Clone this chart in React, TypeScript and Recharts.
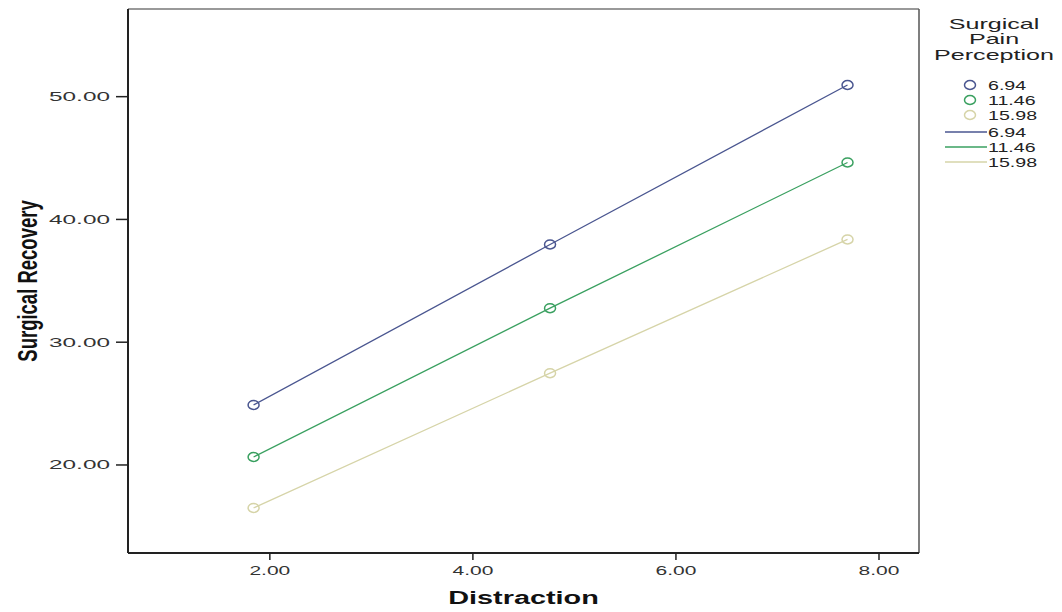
import React from 'react';
import { LineChart, Line, XAxis, YAxis, ReferenceLine, Label } from 'recharts';

// ---- data ----
const distraction = [1.84, 4.76, 7.69];
const painLabels = ['6.94', '11.46', '15.98'];
const recoveryAt694 = [24.89, 37.96, 50.95];
const recoveryAt1146 = [20.65, 32.77, 44.64];
const recoveryAt1598 = [16.5, 27.48, 38.37];
const xTicks = [2, 4, 6, 8];
const yTicks = [20, 30, 40, 50];
const xDomain: [number, number] = [0.603, 8.394];
const yDomain: [number, number] = [12.83, 57.14];
const legendTitle = ['Surgical', 'Pain', 'Perception'];
const xTitle = 'Distraction';
const yTitle = 'Surgical Recovery';

const seriesColors = ['#4a5690', '#3aa060', '#d6d4a8'];
const seriesKeys = ['s0', 's1', 's2'];
const seriesValues = [recoveryAt694, recoveryAt1146, recoveryAt1598];

const rows = distraction.map((x, i) => ({
  x,
  s0: recoveryAt694[i],
  s1: recoveryAt1146[i],
  s2: recoveryAt1598[i],
}));

const FONT = 'Liberation Sans, Arial, sans-serif';
const W = 1054;
const H = 604;

const YTick = (props: any) => {
  const { x, y, payload } = props;
  return (
    <text
      transform={`translate(${x},${y}) scale(1.95,1)`}
      textAnchor="end"
      dominantBaseline="central"
      fontSize={12.5}
      fontFamily={FONT}
      fill="#333"
    >
      {Number(payload.value).toFixed(2)}
    </text>
  );
};

const XTick = (props: any) => {
  const { x, y, payload } = props;
  return (
    <text
      transform={`translate(${x},${y}) scale(1.68,1)`}
      textAnchor="middle"
      dominantBaseline="central"
      fontSize={12.5}
      fontFamily={FONT}
      fill="#333"
    >
      {Number(payload.value).toFixed(2)}
    </text>
  );
};

const XTitle = (props: any) => {
  const vb = props.viewBox || {};
  const cx = vb.x + vb.width / 2;
  const cy = vb.y + 45;
  return (
    <text
      transform={`translate(${cx},${cy}) scale(1.65,1)`}
      textAnchor="middle"
      dominantBaseline="central"
      fontSize={17.5}
      fontWeight="bold"
      fontFamily={FONT}
      fill="#111"
    >
      {xTitle}
    </text>
  );
};

const YTitle = (props: any) => {
  const vb = props.viewBox || {};
  const cx = 20;
  const cy = vb.y + vb.height / 2;
  return (
    <text
      transform={`translate(${cx},${cy}) scale(1.45,1) rotate(-90)`}
      textAnchor="middle"
      dominantBaseline="central"
      fontSize={18.5}
      fontWeight="bold"
      fontFamily={FONT}
      fill="#111"
    >
      {yTitle}
    </text>
  );
};

const makeDot = (color: string) => (p: any) => (
  <ellipse
    key={`d-${color}-${p.index}`}
    cx={p.cx}
    cy={p.cy}
    rx={5.5}
    ry={4.5}
    fill="none"
    stroke={color}
    strokeWidth={1.5}
  />
);

const LegendOverlay = () => {
  const titleX = 986;
  const titleY = [16, 31, 47];
  const rowY = [77, 92, 107, 124, 139, 154];
  return (
    <svg
      width={W}
      height={H}
      style={{ position: 'absolute', left: 0, top: 0, pointerEvents: 'none' }}
    >
      {legendTitle.map((t, i) => (
        <text
          key={t}
          transform={`translate(${titleX},${titleY[i]}) scale(1.73,1)`}
          textAnchor="middle"
          dominantBaseline="central"
          fontSize={14.5}
          fontFamily={FONT}
          fill="#222"
        >
          {t}
        </text>
      ))}
      {painLabels.map((lab, i) => (
        <g key={`c-${lab}`}>
          <ellipse
            cx={962}
            cy={rowY[i]}
            rx={5.5}
            ry={4.5}
            fill="none"
            stroke={seriesColors[i]}
            strokeWidth={1.5}
          />
          <text
            transform={`translate(980,${rowY[i]}) scale(1.57,1)`}
            dominantBaseline="central"
            fontSize={12.5}
            fontFamily={FONT}
            fill="#222"
          >
            {lab}
          </text>
        </g>
      ))}
      {painLabels.map((lab, i) => (
        <g key={`l-${lab}`}>
          <line
            x1={937}
            x2={979}
            y1={rowY[i + 3]}
            y2={rowY[i + 3]}
            stroke={seriesColors[i]}
            strokeWidth={1.5}
          />
          <text
            transform={`translate(980,${rowY[i + 3]}) scale(1.57,1)`}
            dominantBaseline="central"
            fontSize={12.5}
            fontFamily={FONT}
            fill="#222"
          >
            {lab}
          </text>
        </g>
      ))}
    </svg>
  );
};

export default function App() {
  return (
    <div style={{ position: 'relative', width: W, height: H, background: '#fff' }}>
      <LineChart
        width={W}
        height={H}
        data={rows}
        margin={{ top: 1, right: 143, bottom: 0, left: 0 }}
      >
        <XAxis
          type="number"
          dataKey="x"
          domain={xDomain}
          allowDataOverflow
          ticks={xTicks}
          interval={0}
          height={59}
          tickSize={7}
          tickMargin={11}
          tick={<XTick />}
          axisLine={{ stroke: '#222', strokeWidth: 2 }}
          tickLine={{ stroke: '#222', strokeWidth: 1.5 }}
        >
          <Label content={<XTitle />} />
        </XAxis>
        <YAxis
          type="number"
          domain={yDomain}
          allowDataOverflow
          ticks={yTicks}
          interval={0}
          width={120}
          tickSize={12}
          tickMargin={6}
          tick={<YTick />}
          axisLine={{ stroke: '#222', strokeWidth: 2 }}
          tickLine={{ stroke: '#222', strokeWidth: 1.5 }}
        >
          <Label content={<YTitle />} />
        </YAxis>
        <ReferenceLine y={yDomain[1]} stroke="#999" strokeWidth={2} />
        <ReferenceLine x={xDomain[1]} stroke="#555" strokeWidth={1.5} />
        {seriesKeys.map((k, i) => (
          <Line
            key={k}
            type="linear"
            dataKey={k}
            stroke={seriesColors[i]}
            strokeWidth={1.3}
            dot={makeDot(seriesColors[i])}
            activeDot={false}
            isAnimationActive={false}
          />
        ))}
      </LineChart>
      <LegendOverlay />
    </div>
  );
}
